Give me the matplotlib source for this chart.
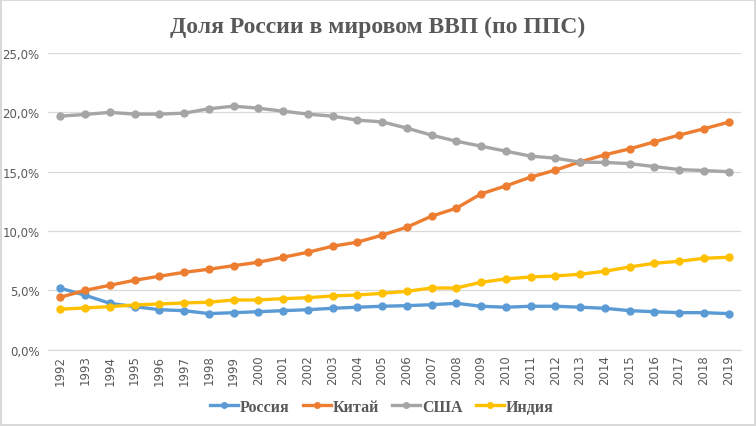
import matplotlib.pyplot as plt
from matplotlib.ticker import FuncFormatter

# Data
years = list(range(1992, 2020))
russia = [5.18, 4.59, 3.91, 3.63, 3.37, 3.29, 3.04, 3.12, 3.20, 3.29,
          3.37, 3.49, 3.58, 3.66, 3.71, 3.79, 3.91, 3.66, 3.58, 3.66,
          3.66, 3.58, 3.49, 3.29, 3.20, 3.12, 3.12, 3.04]
china = [4.42, 5.00, 5.43, 5.85, 6.19, 6.52, 6.78, 7.08, 7.37, 7.79,
         8.21, 8.72, 9.06, 9.65, 10.32, 11.25, 11.92, 13.13, 13.80, 14.54,
         15.13, 15.83, 16.42, 16.92, 17.51, 18.08, 18.61, 19.17]
usa = [19.68, 19.82, 20.00, 19.85, 19.85, 19.93, 20.30, 20.52, 20.35, 20.10,
       19.85, 19.68, 19.34, 19.20, 18.67, 18.08, 17.57, 17.15, 16.73, 16.31,
       16.14, 15.80, 15.78, 15.68, 15.43, 15.18, 15.10, 15.00]
india = [3.41, 3.52, 3.63, 3.77, 3.85, 3.94, 4.00, 4.19, 4.19, 4.30,
         4.38, 4.53, 4.61, 4.75, 4.92, 5.20, 5.20, 5.68, 5.96, 6.13,
         6.21, 6.36, 6.61, 6.97, 7.28, 7.45, 7.70, 7.79]

series = [("Россия", russia, "#5B9BD5"),
          ("Китай", china, "#ED7D31"),
          ("США", usa, "#A5A5A5"),
          ("Индия", india, "#FFC000")]

fig = plt.figure(figsize=(7.56, 4.27), dpi=100)
fig.patch.set_edgecolor("#d9d9d9")
fig.patch.set_linewidth(1.5)
ax = fig.add_axes([0.0635, 0.1787, 0.9165, 0.6948])

x = list(range(len(years)))
for name, vals, col in series:
    ax.plot(x, vals, color=col, lw=2.4, marker="o", ms=5, label=name)

ax.set_xlim(-0.5, len(years) - 0.5)
ax.set_ylim(0, 25)
ax.set_yticks([0, 5, 10, 15, 20, 25])
ax.yaxis.set_major_formatter(FuncFormatter(lambda v, p: f"{v:.1f}%".replace(".", ",")))
ax.set_xticks(x)
ax.set_xticklabels([str(y) for y in years], rotation=90)
ax.tick_params(length=0, labelsize=8.5, labelcolor="#595959")
ax.tick_params(axis="y", pad=6)
ax.grid(axis="y", color="#d9d9d9", lw=0.9)
ax.set_axisbelow(True)
for s in ["top", "right", "left"]:
    ax.spines[s].set_visible(False)
ax.spines["bottom"].set_color("#d9d9d9")

fig.text(0.5, 0.935, "Доля России в мировом ВВП (по ППС)", ha="center", va="center",
         fontsize=17, fontweight="bold", family="Liberation Serif", color="#595959")

leg = fig.legend(loc="center", bbox_to_anchor=(0.505, 0.045), ncol=4, frameon=False,
                 prop={"family": "Liberation Serif", "weight": "bold", "size": 11.5},
                 handlelength=1.75, handletextpad=0.1, columnspacing=0.85,
                 markerscale=0.8)
for t in leg.get_texts():
    t.set_color("#595959")

fig.savefig("out.png", dpi=100)
